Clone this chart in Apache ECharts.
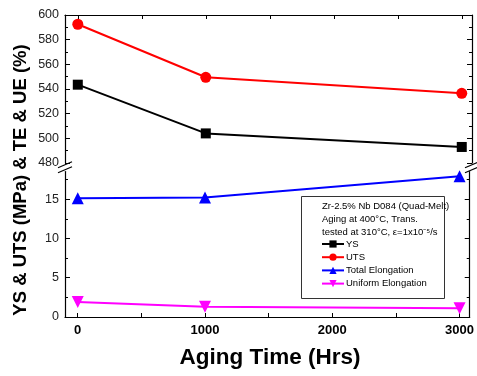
<!DOCTYPE html>
<html>
<head>
<meta charset="utf-8">
<script src="https://cdn.jsdelivr.net/npm/echarts@6/dist/echarts.min.js"></script>
<style>html,body{margin:0;padding:0;background:#fff}#c{width:477px;height:376px}</style>
</head>
<body>
<div id="c"></div>
<script>
// ---- data ----
var agingTime = [0, 1000, 3000];
var ys  = [543.5, 504, 493];
var uts = [592.5, 549.5, 536.5];
var te  = [15.1, 15.2, 17.9];
var ue  = [1.9, 1.3, 1.1];
var xTickValues  = [0, 500, 1000, 1500, 2000, 2500, 3000];
var xLabelValues = [0, 1000, 2000, 3000];
var upperTicks = [480, 500, 520, 540, 560, 580, 600];
var upperMinor = [490, 510, 530, 550, 570, 590];
var lowerTicks = [0, 5, 10, 15];
var lowerMinor = [2.5, 7.5, 12.5, 17.5];
var seriesNames = ['YS', 'UTS', 'Total Elongation', 'Uniform Elongation'];
var noteLines = ['Zr-2.5% Nb D084 (Quad-Melt)', 'Aging at 400\u00B0C, Trans.', 'tested at 310\u00B0C, \u03B5=1x10\u207B\u2075/s'];

var FONT = '"Liberation Sans", Arial, sans-serif';
var X_MIN = -100, X_MAX = 3080;
var UP_MIN = 480, UP_MAX = 600, LO_MIN = 0, LO_MAX = 18.5;

function pairs(xs, vs) { return xs.map(function (x, i) { return [x, vs[i]]; }); }

var chart = echarts.init(document.getElementById('c'), null, { renderer: 'canvas' });

var lineStyleAxis = { color: '#000', width: 1.2 };

function xAxisDef(grid, pos, labels) {
  return {
    type: 'value', gridIndex: grid, position: pos, min: X_MIN, max: X_MAX,
    axisLine: { show: true, onZero: false, lineStyle: lineStyleAxis },
    axisTick: { show: true, inside: true, length: 4, customValues: xTickValues, lineStyle: { color: '#000', width: 1 } },
    axisLabel: labels ? { show: true, customValues: xLabelValues, formatter: function (v) { return String(v); }, fontFamily: FONT, fontWeight: 'bold', fontSize: 13, color: '#000', margin: 7 } : { show: false },
    splitLine: { show: false }
  };
}
function yAxisDef(grid, pos, min, max, ticks, labels, tickLen, showLine) {
  return {
    type: 'value', gridIndex: grid, position: pos, min: min, max: max,
    axisLine: { show: showLine, onZero: false, lineStyle: lineStyleAxis },
    axisTick: { show: true, inside: true, length: tickLen, customValues: ticks, lineStyle: { color: '#000', width: 1 } },
    axisLabel: labels ? { show: true, customValues: ticks, formatter: function (v) { return String(v); }, fontFamily: FONT, fontSize: 12.5, color: '#222', margin: 6 } : { show: false },
    splitLine: { show: false }
  };
}

var option = {
  backgroundColor: '#fff',
  animation: false,
  grid: [
    { left: 65, top: 15, width: 407, height: 148 },
    { left: 65, top: 171.6, width: 407, height: 145.4 }
  ],
  xAxis: [
    xAxisDef(0, 'top', false),
    xAxisDef(1, 'bottom', true)
  ],
  yAxis: [
    yAxisDef(0, 'left', UP_MIN, UP_MAX, upperTicks, true, 5, true),
    yAxisDef(0, 'right', UP_MIN, UP_MAX, upperTicks, false, 5, true),
    yAxisDef(1, 'left', LO_MIN, LO_MAX, lowerTicks, true, 5, true),
    yAxisDef(1, 'right', LO_MIN, LO_MAX, lowerTicks, false, 5, true),
    yAxisDef(0, 'left', UP_MIN, UP_MAX, upperMinor, false, 3, false),
    yAxisDef(0, 'right', UP_MIN, UP_MAX, upperMinor, false, 3, false),
    yAxisDef(1, 'left', LO_MIN, LO_MAX, lowerMinor, false, 3, false),
    yAxisDef(1, 'right', LO_MIN, LO_MAX, lowerMinor, false, 3, false)
  ],
  legend: {
    orient: 'vertical', left: 321, top: 239, padding: 0, z: 200, zlevel: 0,
    itemWidth: 22, itemHeight: 9, itemGap: 3.2,
    textStyle: { fontFamily: FONT, fontSize: 9.5, color: '#000', padding: [0, 0, 0, -3] },
    data: seriesNames
  },
  series: [
    { name: seriesNames[0], type: 'line', xAxisIndex: 0, yAxisIndex: 0, data: pairs(agingTime, ys),
      symbol: 'rect', symbolSize: 10, color: '#000', lineStyle: { width: 2, color: '#000' }, itemStyle: { color: '#000' } },
    { name: seriesNames[1], type: 'line', xAxisIndex: 0, yAxisIndex: 0, data: pairs(agingTime, uts),
      symbol: 'circle', symbolSize: 11, color: '#ff0000', lineStyle: { width: 2, color: '#ff0000' }, itemStyle: { color: '#ff0000' } },
    { name: seriesNames[2], type: 'line', xAxisIndex: 1, yAxisIndex: 2, data: pairs(agingTime, te),
      symbol: 'triangle', symbolSize: 12, color: '#0000ff', lineStyle: { width: 2, color: '#0000ff' }, itemStyle: { color: '#0000ff' } },
    { name: seriesNames[3], type: 'line', xAxisIndex: 1, yAxisIndex: 2, data: pairs(agingTime, ue),
      symbol: 'triangle', symbolRotate: 180, symbolSize: 12, color: '#ff00ff', lineStyle: { width: 2, color: '#ff00ff' }, itemStyle: { color: '#ff00ff' } }
  ]
};
chart.setOption(option);

// decorations: legend box, note text, axis titles, axis-break marks
var pUpLeft = chart.convertToPixel({ xAxisIndex: 0, yAxisIndex: 0 }, [X_MIN, UP_MIN]);
var pUpRight = chart.convertToPixel({ xAxisIndex: 0, yAxisIndex: 0 }, [X_MAX, UP_MIN]);
var pLoLeft = chart.convertToPixel({ xAxisIndex: 1, yAxisIndex: 2 }, [X_MIN, LO_MAX]);
var yMid = (pUpLeft[1] + pLoLeft[1]) / 2;

function breakMarks(x) {
  return [yMid - 2.5, yMid + 2.5].map(function (y) {
    return { type: 'line', shape: { x1: x - 7, y1: y + 3, x2: x + 7, y2: y - 3 }, style: { stroke: '#000', lineWidth: 1.2 }, z: 100 };
  });
}

var graphics = [
  { type: 'rect', shape: { x: 301.5, y: 196.5, width: 143, height: 102 }, style: { fill: '#fff', stroke: '#333', lineWidth: 1 }, z: 1 },
  { type: 'text', left: 322, top: 200, z: 60,
    style: { text: noteLines.join('\n'), fontFamily: FONT, fontSize: 9.5, lineHeight: 13, fill: '#000' } },
  { type: 'text', x: 21, y: 180, rotation: Math.PI / 2, z: 60,
    style: { text: 'YS & UTS (MPa) & TE & UE (%)', fontFamily: FONT, fontWeight: 'bold', fontSize: 18.5, fill: '#000', align: 'center', verticalAlign: 'middle' } },
  { type: 'text', x: 270, y: 358, z: 60,
    style: { text: 'Aging Time (Hrs)', fontFamily: FONT, fontWeight: 'bold', fontSize: 22.5, fill: '#000', align: 'center', verticalAlign: 'middle' } }
].concat(breakMarks(pUpLeft[0])).concat(breakMarks(pUpRight[0]));

chart.setOption({ graphic: graphics });
</script>
</body>
</html>
